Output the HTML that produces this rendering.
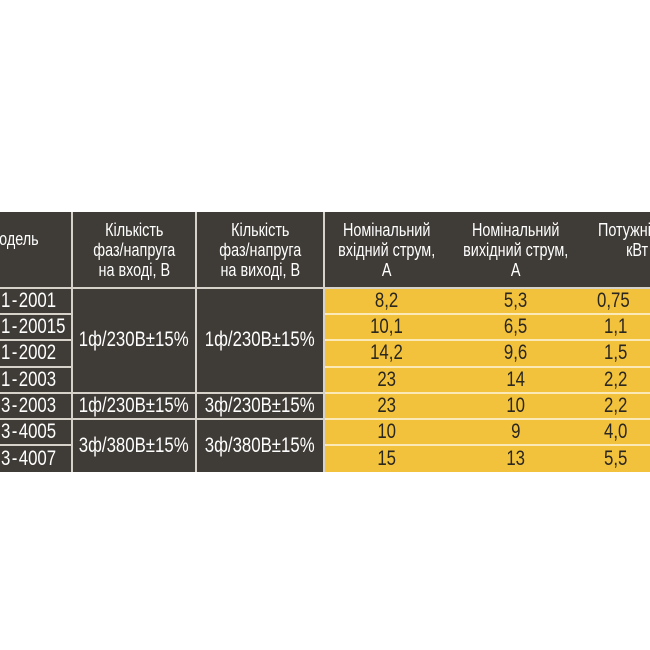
<!DOCTYPE html>
<html><head><meta charset="utf-8"><style>
html,body{margin:0;width:650px;height:650px;background:#fff;overflow:hidden}
#tbl{position:absolute;left:0;top:0;width:650px;height:650px;overflow:hidden;font-family:"Liberation Sans",sans-serif}
.c{position:absolute;box-sizing:border-box;display:flex;align-items:center;justify-content:center;text-align:center;color:#fff;white-space:nowrap}
.t{display:inline-block;transform:scaleX(0.8);transform-origin:center}
.d{background:#3f3b36}
.y{background:#f2c23c;color:#2a2620}
.h{font-size:18px;line-height:20px}
.v{font-size:21px}
</style></head><body>
<div id="tbl"></div>
<script>
const models=["1\u200A-\u200A2001","1\u200A-\u200A20015","1\u200A-\u200A2002","1\u200A-\u200A2003","3\u200A-\u200A2003","3\u200A-\u200A4005","3\u200A-\u200A4007"];
const inCur=["8,2","10,1","14,2","23","23","10","15"];
const outCur=["5,3","6,5","9,6","14","10","9","13"];
const power=["0,75","1,1","1,5","2,2","2,2","4,0","5,5"];
const tbl=document.getElementById('tbl');
const top0=212,hb=289,rh=26.2;
const cols=[0,73,197,325,448,584,720];
function cell(x1,x2,y1,y2,cls,html,name,align){
 const e=document.createElement('div');
 e.className='c '+cls;
 e.style.left=x1+'px';e.style.width=(x2-x1)+'px';e.style.top=y1+'px';e.style.height=(y2-y1)+'px';
 e.innerHTML='<span class="t">'+html+'</span>';
 if(align){e.style.justifyContent='flex-start';e.firstChild.style.transformOrigin='left';}
 
 
 tbl.appendChild(e);return e;
}
const heads=["Модель","Кількість<br>фаз/напруга<br>на вході, В","Кількість<br>фаз/напруга<br>на виході, В","Номінальний<br>вхідний струм,<br>А","Номінальний<br>вихідний струм,<br>А","Потужність,<br>кВт"];
for(let i=0;i<6;i++){
 const e=cell(cols[i],cols[i+1],top0,hb,'d h',heads[i],'header-cell',i==0||i==5);
 if(i<3)e.style.borderRight='2px solid #d6d2ca';
 e.style.borderBottom='2px solid #d6d2ca';
 if(i==0){e.style.paddingBottom='22px';e.firstChild.style.marginLeft='-13px';}
 if(i==5){e.style.paddingLeft='14px';e.style.paddingBottom='20px';}
}
const ry=i=>hb+i*rh;
for(let i=0;i<7;i++){
 const e=cell(0,73,ry(i),ry(i+1),'d v',models[i],'model-cell',true);
 e.style.paddingLeft='1px';e.style.borderRight='2px solid #d6d2ca';
 if(i<6)e.style.borderBottom='2px solid #d6d2ca';
 [[325,448,inCur],[448,584,outCur],[584,720,power]].forEach(([a,b,arr],k)=>{
  const c=cell(a,b,ry(i),ry(i+1),'y v',arr[i],'value-cell');
  if(i<6)c.style.borderBottom='2px solid #fbeab8';
  if(k==2){c.style.justifyContent='flex-start';c.style.paddingLeft=(i==0?'13px':'20px');c.firstChild.style.transformOrigin='left';}
 });
}
const groups=[[0,4,"1ф/230В±15%","1ф/230В±15%"],[4,5,"1ф/230В±15%","3ф/230В±15%"],[5,7,"3ф/380В±15%","3ф/380В±15%"]];
groups.forEach(([a,b,s1,s2],g)=>{
 const e1=cell(73,197,ry(a),ry(b),'d v',s1,'input-phase-cell');
 const e2=cell(197,325,ry(a),ry(b),'d v',s2,'output-phase-cell');
 [e1,e2].forEach(e=>{e.style.borderRight='2px solid #d6d2ca';if(g<2)e.style.borderBottom='2px solid #d6d2ca';});
});
</script>
</body></html>
